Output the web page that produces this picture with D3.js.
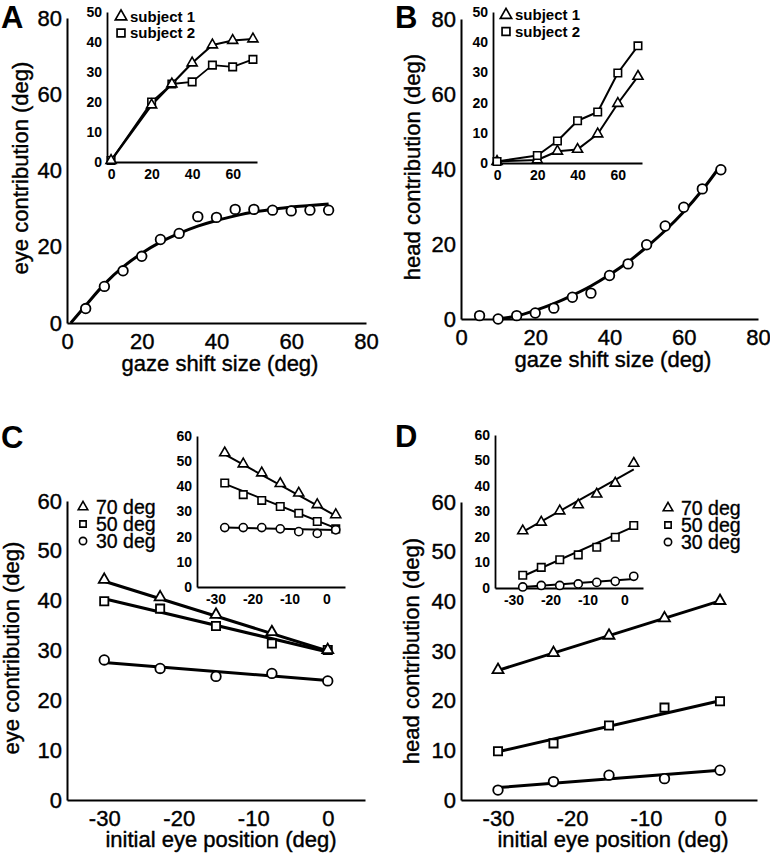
<!DOCTYPE html>
<html>
<head>
<meta charset="utf-8">
<script src="https://cdn.jsdelivr.net/npm/d3@7"></script>
<style>
body{margin:0;background:#fff;}
svg text{font-family:"Liberation Sans",Arial,Helvetica,sans-serif;fill:#000;}
</style>
</head>
<body>
<svg id="fig" width="770" height="853"></svg>
<script>
//------------------- data: panels A and B (main) -------------------//
var gazeSize    = [5,10,15,20,25,30,35,40,45,50,55,60,65,70];
var eyeContrib  = [3.8,9.6,13.7,17.5,21.9,23.5,27.9,27.7,29.8,29.8,29.6,29.4,29.6,29.6];
var headContrib = [0.9,0,0.9,1.6,2.9,5.8,6.9,11.6,14.7,19.8,24.8,29.8,34.7,39.8];
var eyeFitX  = [1,5,10,15,20,25,30,35,40,45,50,55,60,65,70];
var eyeFitY  = [0,4.6,10.2,14.7,18.3,21.2,23.5,25.4,26.9,28.1,29.1,29.8,30.4,30.8,31.2];
var headFitX = [10,15,20,25,30,35,40,45,50,55,60,65,70];
var headFitY = [0,0.8,2.3,4.1,6.3,8.8,11.8,15.2,19.2,23.6,28.6,34.4,41];
var gazeTicks = [0,20,40,60,80];

//------------------- data: insets A and B -------------------//
var insetGaze = [0,20,30,40,50,60,70];
var eyeS1  = [0.5,19,26,33,39,40.5,41];
var eyeS2  = [0.5,20,26,26.7,32.3,31.7,34.2];
var headS1 = [0.5,1,3.9,4.5,9.6,19.7,28.7];
var headS2 = [0.5,2.5,7.3,14,16.9,29.8,38.8];
var subjects = ['subject 1','subject 2'];
var insetGazeTicks = [0,20,40,60];
var insetContribTicks = [0,10,20,30,40,50];

//------------------- data: panels C and D (main) -------------------//
var eyePos = [-30,-22.5,-15,-7.5,0];
var amplitudes = ['70 deg','50 deg','30 deg'];
var eye70 = [44.2,40.7,37.2,33.7,30.1];
var eye50 = [39.9,38.4,34.9,31.4,30.1];
var eye30 = [28.1,26.4,24.8,25.4,23.9];
var eyeFitEnds = [-30,0];
var eyeFit70 = [43.9,29.9];
var eyeFit50 = [40.4,29.7];
var eyeFit30 = [27.6,24.0];
var head70 = [26.2,29.6,33.1,36.6,40.1];
var head50 = [9.8,11.4,15,18.6,19.9];
var head30 = [2,3.7,5,4.3,6];
var headFit70 = [26.1,40.1];
var headFit50 = [9.7,20];
var headFit30 = [2.5,6];
var posTicks = [-30,-20,-10,0];
var contribTicks = [0,10,20,30,40,50,60];

//------------------- data: insets C and D -------------------//
var insetPos = [-27.5,-22.5,-17.5,-12.5,-7.5,-2.5,2.5];
var insetFitEnds = [-27.5,2.5];
var insEye70 = [53.3,48.9,45.3,41.1,37.3,32.7,28.7];
var insEye50 = [41.3,36.7,34.4,32,29.3,26,23.1];
var insEye30 = [23.6,23.6,23.6,23.1,22,21.3,22.7];
var insEyeFit70 = [52.7,28.3];
var insEyeFit50 = [41,23.4];
var insEyeFit30 = [23.6,22.6];
var insHead70 = [22.4,25.8,30.2,32.6,36.8,41.1,48.9];
var insHead50 = [5,8.1,11.1,13,16,19.9,24.5];
var insHead30 = [0.4,1,1,1.6,2.2,2.6,4.6];
var insHeadFit70 = [22,46.5];
var insHeadFit50 = [4.6,24.1];
var insHeadFit30 = [0.4,3.5];

//------------------- svg -------------------//
var svg = d3.select('#fig');

//------------------- helpers -------------------//
function drawAxes(x, y, xt, yt, o){
  var xa = svg.append('g').attr('transform','translate(0,'+y.range()[0]+')')
    .call(d3.axisBottom(x).tickValues(xt).tickSize(0).tickPadding(o.padX).tickFormat(String));
  var ya = svg.append('g').attr('transform','translate('+x.range()[0]+',0)')
    .call(d3.axisLeft(y).tickValues(yt).tickSize(0).tickPadding(o.padY).tickFormat(String));
  [xa,ya].forEach(function(a){
    a.select('.domain').attr('stroke','#000').attr('stroke-width',o.lw);
    a.selectAll('text')
      .style('font-size',o.fs+'px')
      .style('font-weight',o.fw)
      .style('font-family','"Liberation Sans",Arial,sans-serif')
      .attr('stroke','#000').attr('stroke-width',o.sw);
  });
}

var symType = {tri: d3.symbolTriangle, sq: d3.symbolSquare, circ: d3.symbolCircle};
function markers(x, y, xs, ys, type, size, sw){
  svg.append('g').selectAll('path').data(xs).enter().append('path')
    .attr('d', d3.symbol().type(symType[type]).size(size))
    .attr('transform', function(d,i){ return 'translate('+x(d)+','+y(ys[i])+')'; })
    .attr('fill','#fff').attr('stroke','#000').attr('stroke-width',sw);
}
function line(x, y, xs, ys, w, curve){
  var l = d3.line().x(function(d){return x(d[0]);}).y(function(d){return y(d[1]);});
  if (curve) l.curve(curve);
  svg.append('path').datum(xs.map(function(d,i){return [d,ys[i]];}))
    .attr('d', l).attr('fill','none').attr('stroke','#000')
    .attr('stroke-width',w).attr('stroke-linejoin','round');
}
function label(txt, x, y, fs, opt){
  opt = opt || {};
  var t = svg.append('text').text(txt)
    .attr('font-size',fs).attr('font-weight',opt.fw || 'normal')
    .attr('text-anchor',opt.anchor || 'start');
  if (opt.sw) t.attr('stroke','#000').attr('stroke-width',opt.sw);
  if (opt.rot) t.attr('transform','translate('+x+','+y+') rotate(-90)');
  else t.attr('x',x).attr('y',y);
  return t;
}

var mainAx  = {padX:10, padY:5, lw:2, fs:22, fw:'normal', sw:0.4};
var insetAx = {padX:7, padY:5, lw:1.8, fs:14, fw:'bold', sw:0};
var TRI = 52, SQ = 68, CIRC = 72;     // main marker areas
var iTRI = 44, iSQ = 56, iCIRC = 52;  // inset marker areas
var titleOpt = {anchor:'middle', sw:0.4};
var yTitleOpt = {anchor:'middle', rot:true, sw:0.4};

//------------------- panel A -------------------//
var xA = d3.scaleLinear().domain([0,80]).range([67,366]);
var yA = d3.scaleLinear().domain([0,80]).range([323,18]);
drawAxes(xA, yA, gazeTicks, gazeTicks, mainAx);
line(xA, yA, eyeFitX, eyeFitY, 3, d3.curveMonotoneX);
markers(xA, yA, gazeSize, eyeContrib, 'circ', CIRC, 1.8);
label('gaze shift size (deg)', 220, 371, 22, titleOpt);
label('eye contribution (deg)', 28, 168, 22, yTitleOpt);
label('A', 1, 28, 31, {fw:'bold'});

// inset A
var xAi = d3.scaleLinear().domain([-2,72]).range([107,257]);
var yAi = d3.scaleLinear().domain([0,50]).range([162,12]);
drawAxes(xAi, yAi, insetGazeTicks, insetContribTicks, insetAx);
line(xAi, yAi, insetGaze, eyeS2, 1.8);
line(xAi, yAi, insetGaze, eyeS1, 2.2);
markers(xAi, yAi, insetGaze, eyeS2, 'sq', iSQ, 1.6);
markers(xAi, yAi, insetGaze, eyeS1, 'tri', iTRI, 1.6);

//------------------- panel B -------------------//
var xB = d3.scaleLinear().domain([0,80]).range([461,758]);
var yB = d3.scaleLinear().domain([0,80]).range([319,19]);
drawAxes(xB, yB, gazeTicks, gazeTicks, mainAx);
line(xB, yB, headFitX, headFitY, 3, d3.curveMonotoneX);
markers(xB, yB, gazeSize, headContrib, 'circ', CIRC, 1.8);
label('gaze shift size (deg)', 613, 367, 22, titleOpt);
label('head contribution (deg)', 420, 167, 22, yTitleOpt);
label('B', 395, 28, 31, {fw:'bold'});

// inset B
var xBi = d3.scaleLinear().domain([-2,72]).range([493,642]);
var yBi = d3.scaleLinear().domain([0,50]).range([163,12]);
drawAxes(xBi, yBi, insetGazeTicks, insetContribTicks, insetAx);
line(xBi, yBi, insetGaze, headS1, 2);
line(xBi, yBi, insetGaze, headS2, 2);
markers(xBi, yBi, insetGaze, headS1, 'tri', iTRI, 1.6);
markers(xBi, yBi, insetGaze, headS2, 'sq', iSQ, 1.6);

//------- inset legends (subject 1 / subject 2) -------//
function subjLegend(x0, y0){
  var types = ['tri','sq'];
  subjects.forEach(function(s,i){
    svg.append('path')
      .attr('d', d3.symbol().type(symType[types[i]]).size(types[i]=='tri' ? 56 : 62))
      .attr('transform','translate('+x0+','+(y0+i*16.5)+')')
      .attr('fill','#fff').attr('stroke','#000').attr('stroke-width',1.7);
    label(s, x0+9, y0+i*16.5+5, 15, {fw:'bold'});
  });
}
subjLegend(121, 16.5);
subjLegend(506, 15);

//------------------- panel C -------------------//
var xC = d3.scaleLinear().domain([-35,5]).range([67,365]);
var yC = d3.scaleLinear().domain([0,60]).range([800,501]);
drawAxes(xC, yC, posTicks, contribTicks, mainAx);
line(xC, yC, eyeFitEnds, eyeFit70, 3);
line(xC, yC, eyeFitEnds, eyeFit50, 3);
line(xC, yC, eyeFitEnds, eyeFit30, 3);
markers(xC, yC, eyePos, eye50, 'sq', SQ, 1.8);
markers(xC, yC, eyePos, eye70, 'tri', TRI, 1.8);
markers(xC, yC, eyePos, eye30, 'circ', CIRC, 1.8);
label('initial eye position (deg)', 221, 847, 22, titleOpt);
label('eye contribution (deg)', 19, 648, 22, yTitleOpt);
label('C', 1, 448, 31, {fw:'bold'});

// inset C
var xCi = d3.scaleLinear().domain([-35,5]).range([197,345]);
var yCi = d3.scaleLinear().domain([0,60]).range([587,436]);
drawAxes(xCi, yCi, posTicks, contribTicks, insetAx);
line(xCi, yCi, insetFitEnds, insEyeFit70, 2);
line(xCi, yCi, insetFitEnds, insEyeFit50, 2);
line(xCi, yCi, insetFitEnds, insEyeFit30, 2);
markers(xCi, yCi, insetPos, insEye70, 'tri', iTRI, 1.6);
markers(xCi, yCi, insetPos, insEye50, 'sq', iSQ, 1.6);
markers(xCi, yCi, insetPos, insEye30, 'circ', iCIRC, 1.6);

//------------------- panel D -------------------//
var xD = d3.scaleLinear().domain([-35,5]).range([461,757]);
var yD = d3.scaleLinear().domain([0,60]).range([800,502]);
drawAxes(xD, yD, posTicks, contribTicks, mainAx);
line(xD, yD, eyeFitEnds, headFit70, 3);
line(xD, yD, eyeFitEnds, headFit50, 3);
line(xD, yD, eyeFitEnds, headFit30, 3);
markers(xD, yD, eyePos, head70, 'tri', TRI, 1.8);
markers(xD, yD, eyePos, head50, 'sq', SQ, 1.8);
markers(xD, yD, eyePos, head30, 'circ', CIRC, 1.8);
label('initial eye position (deg)', 613, 847, 22, titleOpt);
label('head contribution (deg)', 419, 651, 22, yTitleOpt);
label('D', 395, 447, 31, {fw:'bold'});

// inset D
var xDi = d3.scaleLinear().domain([-35,5]).range([495,643]);
var yDi = d3.scaleLinear().domain([0,60]).range([588,435]);
drawAxes(xDi, yDi, posTicks, contribTicks, insetAx);
line(xDi, yDi, insetFitEnds, insHeadFit70, 2);
line(xDi, yDi, insetFitEnds, insHeadFit50, 2);
line(xDi, yDi, insetFitEnds, insHeadFit30, 2);
markers(xDi, yDi, insetPos, insHead70, 'tri', iTRI, 1.6);
markers(xDi, yDi, insetPos, insHead50, 'sq', iSQ, 1.6);
markers(xDi, yDi, insetPos, insHead30, 'circ', iCIRC, 1.6);

//------- amplitude legends (70 / 50 / 30 deg) -------//
function ampLegend(x0, y0){
  var types = ['tri','sq','circ'];
  var sizes = [40, 40, 42];
  amplitudes.forEach(function(a,i){
    svg.append('path')
      .attr('d', d3.symbol().type(symType[types[i]]).size(sizes[i]))
      .attr('transform','translate('+x0+','+(y0+i*17)+')')
      .attr('fill','#fff').attr('stroke','#000').attr('stroke-width',1.6);
    label(a, x0+13, y0+i*17+7, 19.5, {sw:0.35});
  });
}
ampLegend(83, 507);
ampLegend(668, 508);
</script>
</body>
</html>
